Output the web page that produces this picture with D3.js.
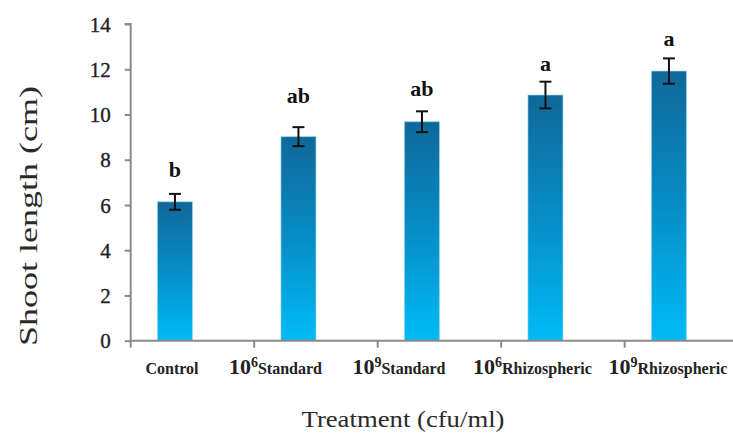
<!DOCTYPE html>
<html>
<head>
<meta charset="utf-8">
<script src="https://cdn.jsdelivr.net/npm/d3@7"></script>
<style>
  html, body { margin: 0; padding: 0; background: #fff; }
  svg { display: block; }
  svg text { font-family: 'Liberation Serif', 'Times New Roman', Times, serif; }
</style>
</head>
<body>
<svg id="chart" width="733" height="435"></svg>
<script>
// ---- data ----
const categories = ["Control", "10^6Standard", "10^9Standard", "10^6Rhizospheric", "10^9Rhizospheric"];
const labelBase = ["Control", "10", "10", "10", "10"];
const labelExp = ["", "6", "9", "6", "9"];
const labelName = ["", "Standard", "Standard", "Rhizospheric", "Rhizospheric"];
const means = [6.14, 9.02, 9.68, 10.86, 11.92];
const errors = [0.35, 0.42, 0.46, 0.59, 0.56];
const letters = ["b", "ab", "ab", "a", "a"];
const yTicks = [0, 2, 4, 6, 8, 10, 12, 14];
const yTitle = "Shoot length (cm)";
const xTitle = "Treatment (cfu/ml)";

// ---- layout ----
const axisLeft = 130.7, axisBottom = 340.7, axisTop = 24;
const step = 123.5;
const labelNudge = [-3, -23, -23, -13, -1];
const letterGap = [17, 24, 15, 11, 12];
const axisColor = "#8a8a8a";
const FONT = "'Liberation Serif', 'Times New Roman', Times, serif";

const svg = d3.select("#chart");
const defs = svg.append("defs");
const grad = defs.append("linearGradient").attr("id", "barGrad")
  .attr("x1", 0).attr("y1", 0).attr("x2", 0).attr("y2", 1);
grad.append("stop").attr("offset", "0%").attr("stop-color", "#106899");
grad.append("stop").attr("offset", "50%").attr("stop-color", "#078dc6");
grad.append("stop").attr("offset", "100%").attr("stop-color", "#00bbf6");

const x = d3.scaleBand().domain(categories)
  .range([axisLeft, axisLeft + step * categories.length]).paddingInner(0).paddingOuter(0);
const x1 = d3.scaleBand().domain(["shoot", "blank"]).range([0, x.bandwidth()]).paddingInner(0).paddingOuter(0.765);
const y = d3.scaleLinear().domain([0, 14]).range([axisBottom, axisTop]);

const data = categories.map((c, i) => ({c, i, m: means[i], e: errors[i]}));

// bars
svg.append("g").selectAll("rect").data(data).join("rect")
  .attr("x", d => x(d.c) + x1("shoot"))
  .attr("y", d => y(d.m))
  .attr("width", x1.bandwidth())
  .attr("height", d => y(0) - y(d.m))
  .attr("fill", "url(#barGrad)")
  .attr("stroke", "#8fd6f2").attr("stroke-width", 1).attr("stroke-opacity", 0.6);

// error bars
const eg = svg.append("g").attr("stroke", "#111").attr("stroke-width", 2);
data.forEach(d => {
  const cx = x(d.c) + x1("shoot") + x1.bandwidth() / 2;
  eg.append("line").attr("x1", cx).attr("x2", cx).attr("y1", y(d.m + d.e)).attr("y2", y(d.m - d.e));
  eg.append("line").attr("x1", cx - 6).attr("x2", cx + 6).attr("y1", y(d.m + d.e)).attr("y2", y(d.m + d.e));
  eg.append("line").attr("x1", cx - 6).attr("x2", cx + 6).attr("y1", y(d.m - d.e)).attr("y2", y(d.m - d.e));
});

// significance letters
svg.append("g").selectAll("text").data(data).join("text")
  .attr("x", d => x(d.c) + x1("shoot") + x1.bandwidth() / 2)
  .attr("y", d => y(d.m + d.e) - letterGap[d.i])
  .attr("text-anchor", "middle")
  .style("font-family", FONT)
  .style("font-weight", "bold").style("font-size", "22px").attr("fill", "#111")
  .text(d => letters[d.i]);

// y axis
const yAxis = d3.axisLeft(y).tickValues(yTicks).tickSize(6).tickPadding(14).tickFormat(d3.format("d"));
const gy = svg.append("g").attr("transform", `translate(${axisLeft},0)`).call(yAxis);
gy.attr("font-family", null);
gy.select(".domain").attr("stroke", axisColor).attr("stroke-width", 2).attr("d", `M-6,${axisTop}H0V${axisBottom}`);
gy.selectAll(".tick line").attr("stroke", axisColor).attr("stroke-width", 2);
gy.selectAll(".tick text").style("font-family", FONT)
  .style("font-size", "21px").attr("fill", "#222")
  .attr("stroke", "#222").attr("stroke-width", 0.35)
  .attr("dy", "0.34em");

// x axis
const bounds = categories.map(c => x(c));
const xAxisG = svg.append("g");
xAxisG.append("line").attr("x1", axisLeft).attr("x2", x.range()[1]).attr("y1", axisBottom).attr("y2", axisBottom)
  .attr("stroke", axisColor).attr("stroke-width", 2);
xAxisG.selectAll("line.tk").data(bounds).join("line").attr("class", "tk")
  .attr("x1", d => d).attr("x2", d => d).attr("y1", axisBottom).attr("y2", axisBottom + 7)
  .attr("stroke", axisColor).attr("stroke-width", 2);

// x labels
const xl = svg.append("g").selectAll("text").data(data).join("text")
  .attr("x", d => x(d.c) + x1("shoot") + x1.bandwidth() / 2 + labelNudge[d.i])
  .attr("y", 374)
  .attr("text-anchor", "middle")
  .style("font-family", FONT)
  .style("font-weight", "bold").attr("fill", "#222");
xl.each(function(d) {
  const t = d3.select(this);
  if (labelExp[d.i] === "") {
    t.append("tspan").style("font-size", "16px").text(labelBase[d.i]);
  } else {
    t.append("tspan").style("font-size", "22px").text(labelBase[d.i]);
    t.append("tspan").style("font-size", "14px").attr("dy", -7).text(labelExp[d.i]);
    t.append("tspan").style("font-size", "16px").attr("dy", 7).text(labelName[d.i]);
  }
});

// axis titles
svg.append("text")
  .attr("transform", `translate(37,216) rotate(-90)`)
  .attr("text-anchor", "middle")
  .style("font-family", FONT)
  .style("font-size", "25px").attr("fill", "#2a2a2a")
  .attr("textLength", 260).attr("lengthAdjust", "spacingAndGlyphs")
  .text(yTitle);

svg.append("text")
  .attr("x", 403).attr("y", 427)
  .attr("text-anchor", "middle")
  .style("font-family", FONT)
  .style("font-size", "23px").attr("fill", "#2a2a2a")
  .attr("textLength", 203).attr("lengthAdjust", "spacingAndGlyphs")
  .text(xTitle);
</script>
</body>
</html>
